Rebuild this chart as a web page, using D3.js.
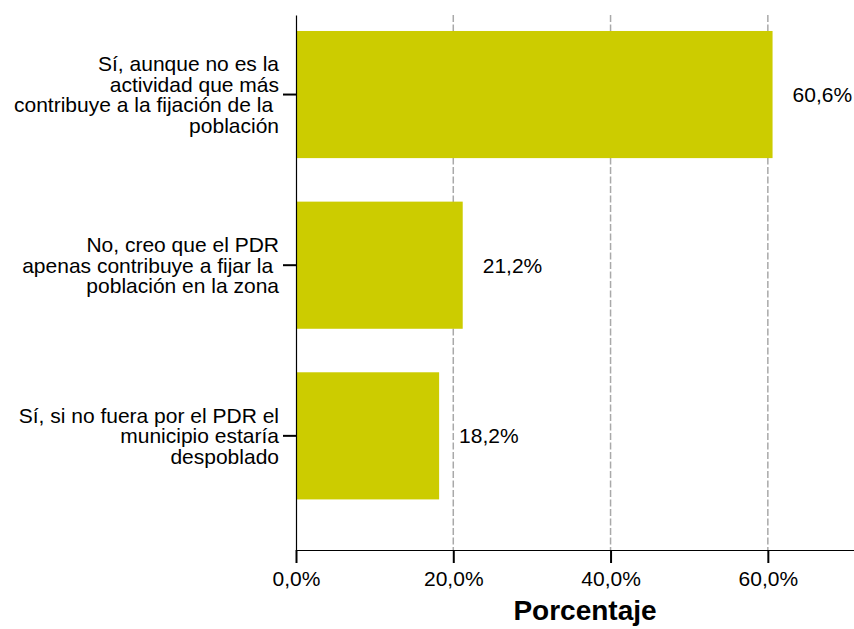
<!DOCTYPE html>
<html>
<head>
<meta charset="utf-8">
<script src="https://cdn.jsdelivr.net/npm/d3@7"></script>
<style>
  body { margin: 0; background: #fff; }
  text { font-family: "Liberation Sans", Arial, Helvetica, sans-serif; fill: #000; }
</style>
</head>
<body>
<svg id="barChart"></svg>
<script>
// categories, one entry per bar, already split in lines like the original
const categories = [
    ["Sí, aunque no es la", "actividad que más", "contribuye a la fijación de la ", "población"],
    ["No, creo que el PDR", "apenas contribuye a fijar la ", "población en la zona"],
    ["Sí, si no fuera por el PDR el", "municipio estaría", "despoblado"]
];
const values = [60.6, 21.2, 18.2];
const xTicks = [0, 20, 40, 60];
const xTitle = "Porcentaje";

function createBarChart() {
    const width = 854, height = 629;
    const plot = { left: 296, right: 874, top: 15, bottom: 550 };

    const fmt = v => d3.format(".1f")(v).replace(".", ",") + "%";

    const data = categories.map((c, i) => ({ key: c.join(" "), lines: c, value: values[i] }));

    const svg = d3.select("#barChart")
                  .attr("width", width)
                  .attr("height", height);

    const x = d3.scaleLinear()
                .domain([0, 73.5])
                .range([plot.left, plot.right]);

    const y = d3.scaleBand()
                .domain(data.map(d => d.key))
                .range([plot.top, plot.bottom])
                .paddingInner(0.255)
                .paddingOuter(0.195)
                .align(0.24);

    // dashed vertical grid lines
    svg.append("g")
       .selectAll("line")
       .data(xTicks.filter(t => t > 0))
       .enter().append("line")
       .attr("x1", d => x(d))
       .attr("x2", d => x(d))
       .attr("y1", plot.top)
       .attr("y2", plot.bottom)
       .attr("stroke", "#a9a9a9")
       .attr("stroke-width", 1.5)
       .attr("stroke-dasharray", "7,2.5");

    // bars
    svg.selectAll(".bar")
       .data(data)
       .enter().append("rect")
       .attr("class", "bar")
       .attr("x", x(0))
       .attr("y", d => y(d.key))
       .attr("width", d => x(d.value) - x(0))
       .attr("height", y.bandwidth())
       .attr("fill", "#cccc00");

    // value labels
    svg.selectAll(".val")
       .data(data)
       .enter().append("text")
       .attr("class", "val")
       .attr("x", d => x(d.value) + 20)
       .attr("y", d => y(d.key) + y.bandwidth() / 2)
       .attr("dy", "0.36em")
       .style("font-size", "21px")
       .text(d => fmt(d.value));

    // x axis
    const xAxis = svg.append("g")
       .attr("transform", `translate(0, ${plot.bottom})`)
       .call(d3.axisBottom(x).tickValues(xTicks).tickFormat(fmt).tickSize(13).tickSizeOuter(0).tickPadding(8));
    xAxis.select(".domain").attr("stroke", "#000").attr("stroke-width", 1.2);
    xAxis.selectAll(".tick line").attr("stroke", "#000").attr("stroke-width", 2);
    xAxis.selectAll(".tick text")
         .attr("font-family", null)
         .style("font-size", "21px")
         .attr("dy", "0.71em");

    // y axis
    const yAxis = svg.append("g")
       .attr("transform", `translate(${plot.left}, 0)`)
       .call(d3.axisLeft(y).tickSize(13).tickSizeOuter(0).tickFormat(""));
    yAxis.select(".domain").attr("stroke", "#000").attr("stroke-width", 1.2);
    yAxis.selectAll(".tick line").attr("stroke", "#000").attr("stroke-width", 2);

    // multi-line category labels
    const lineH = 20.8;
    svg.selectAll(".cat")
       .data(data)
       .enter().append("text")
       .attr("class", "cat")
       .attr("text-anchor", "end")
       .style("font-size", "21px")
       .style("white-space", "pre")
       .each(function(d) {
           const cy = y(d.key) + y.bandwidth() / 2;
           const n = d.lines.length;
           d3.select(this).selectAll("tspan")
             .data(d.lines)
             .enter().append("tspan")
             .attr("x", plot.left - 17)
             .attr("y", (l, i) => cy + (i - (n - 1) / 2) * lineH + 7.5)
             .text(l => l);
       });

    // axis title
    svg.append("text")
       .attr("x", (plot.left + plot.right) / 2)
       .attr("y", 620)
       .attr("text-anchor", "middle")
       .style("font-size", "28px")
       .style("font-weight", "bold")
       .text(xTitle);
}

createBarChart();
</script>
</body>
</html>
